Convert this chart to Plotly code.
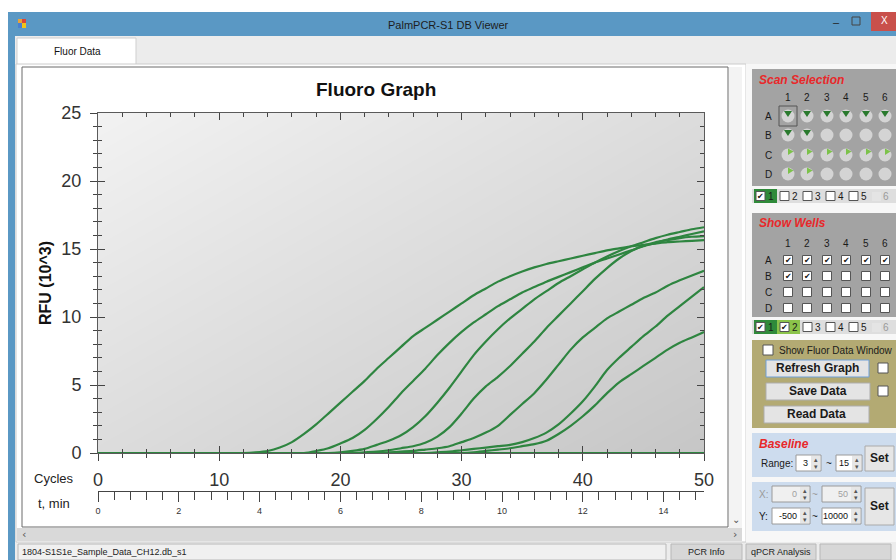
import plotly.graph_objects as go

# ---------------- data ----------------
cycles = list(range(51))
well_labels = ["B2", "A1", "A2", "A3", "A4", "A5", "A6", "B1"]

rfu_a1 = [0, 0, 0, 0, 0, 0, 0, 0, 0, 0, 0, 0, 0,
          0.05, 0.15, 0.4, 0.8, 1.4, 2.1, 2.9, 3.7, 4.5, 5.3, 6.2, 7.0, 7.8, 8.6, 9.2, 9.8,
          10.4, 11.0, 11.6, 12.1, 12.6, 13.0, 13.35, 13.65, 13.9, 14.1, 14.3, 14.5, 14.7,
          14.9, 15.05, 15.2, 15.3, 15.4, 15.5, 15.55, 15.6, 15.65]
rfu_a2 = [0, 0, 0, 0, 0, 0, 0, 0, 0, 0, 0, 0, 0, 0, 0, 0, 0, 0,
          0.15, 0.35, 0.7, 1.1, 1.7, 2.5, 3.4, 4.4, 5.3, 6.2, 7.2, 8.1, 8.9, 9.6, 10.2,
          10.8, 11.3, 11.8, 12.2, 12.6, 12.95, 13.3, 13.65, 14.0, 14.3, 14.6, 14.9, 15.2,
          15.45, 15.7, 15.9, 16.1, 16.3]
rfu_a3 = [0, 0, 0, 0, 0, 0, 0, 0, 0, 0, 0, 0, 0, 0, 0, 0, 0, 0, 0, 0,
          0.05, 0.15, 0.3, 0.6, 0.9, 1.3, 1.9, 2.7, 3.7, 4.8, 6.0, 7.2, 8.2, 9.1, 9.9,
          10.6, 11.3, 11.9, 12.5, 13.0, 13.5, 14.0, 14.45, 14.85, 15.2, 15.5, 15.8, 16.05,
          16.25, 16.45, 16.6]
rfu_a4 = [0, 0, 0, 0, 0, 0, 0, 0, 0, 0, 0, 0, 0, 0, 0, 0, 0, 0, 0, 0, 0, 0,
          0.05, 0.1, 0.2, 0.35, 0.5, 0.75, 1.2, 1.9, 2.9, 4.0, 4.9, 5.6, 6.4, 7.3, 8.2,
          9.2, 10.1, 11.0, 11.9, 12.8, 13.6, 14.3, 14.85, 15.25, 15.5, 15.65, 15.8, 15.9,
          15.95]
rfu_a5 = [0, 0, 0, 0, 0, 0, 0, 0, 0, 0, 0, 0, 0, 0, 0, 0, 0, 0, 0, 0, 0, 0, 0, 0,
          0.05, 0.1, 0.15, 0.25, 0.35, 0.5, 0.8, 1.1, 1.5, 2.0, 2.8, 3.6, 4.4, 5.4, 6.5,
          7.6, 8.5, 9.2, 9.9, 10.4, 10.9, 11.4, 11.8, 12.3, 12.7, 13.05, 13.4]
rfu_a6 = [0, 0, 0, 0, 0, 0, 0, 0, 0, 0, 0, 0, 0, 0, 0, 0, 0, 0, 0, 0, 0, 0, 0, 0,
          0, 0, 0, 0,
          0.05, 0.1, 0.2, 0.3, 0.4, 0.5, 0.6, 0.8, 1.1, 1.5, 2.1, 2.9, 3.8, 4.9, 6.1,
          7.0, 7.8, 8.6, 9.3, 10.1, 10.8, 11.5, 12.2]
rfu_b1 = [0, 0, 0, 0, 0, 0, 0, 0, 0, 0, 0, 0, 0, 0, 0, 0, 0, 0, 0, 0, 0, 0, 0, 0,
          0, 0, 0, 0, 0, 0, 0,
          0.05, 0.15, 0.25, 0.35, 0.5, 0.65, 0.9, 1.4, 2.0, 2.7, 3.5, 4.4, 5.2, 5.8,
          6.4, 7.0, 7.6, 8.1, 8.5, 8.9]
rfu_b2 = [0, 0, 0, 0, 0, 0, 0, 0, 0, 0, 0, 0, 0, 0, 0, 0, 0, 0, 0, 0, 0, 0, 0, 0,
          0, 0, 0, 0, 0, 0, 0, 0, 0, 0, 0, 0, 0, 0, 0, 0, 0, 0, 0, 0, 0, 0, 0, 0, 0,
          0, 0]
series = [rfu_b2, rfu_a1, rfu_a2, rfu_a3, rfu_a4, rfu_a5, rfu_a6, rfu_b1]

y_ticks = [0, 5, 10, 15, 20, 25]
x_ticks = [0, 10, 20, 30, 40, 50]
t_ticks = [0, 2, 4, 6, 8, 10, 12, 14]

# ---------------- helpers for window chrome ----------------
W, H = 896, 560
FONT = "Liberation Sans"
shapes, annots = [], []


def px(x):
    return x / W


def py(y):
    return 1 - y / H


def rect(x0, y0, x1, y1, fill, line=None, lw=1):
    ln = dict(color=line, width=lw) if line else dict(width=0)
    shapes.append(dict(type="rect", xref="paper", yref="paper", layer="below",
                       x0=px(x0), x1=px(x1), y0=py(y1), y1=py(y0),
                       fillcolor=fill, line=ln))


def circle(cx, cy, r, fill):
    shapes.append(dict(type="circle", xref="paper", yref="paper", layer="below",
                       x0=px(cx - r), x1=px(cx + r), y0=py(cy + r), y1=py(cy - r),
                       fillcolor=fill, line=dict(width=0)))


def poly(pts, fill):
    d = "M " + " L ".join(f"{px(a):.5f},{py(b):.5f}" for a, b in pts) + " Z"
    shapes.append(dict(type="path", xref="paper", yref="paper", layer="below",
                       path=d, fillcolor=fill, line=dict(width=0)))


def text(x, y, s, size=10, color="#111", anchor="left", family=FONT, angle=0):
    annots.append(dict(xref="paper", yref="paper", x=px(x), y=py(y), text=s,
                       showarrow=False, xanchor=anchor, yanchor="middle",
                       textangle=angle, font=dict(size=size, color=color, family=family)))


def checkbox(x, y, checked, size=9, bg="white", border="#555"):
    rect(x, y - size / 2, x + size, y + size / 2, bg, border, 1)
    if checked:
        text(x + size / 2, y, "✔", size=8, color="#111", anchor="center", family="DejaVu Sans")


# window background and frame
rect(0, 0, 896, 560, "#ffffff")
rect(8, 12, 896, 560, "#ececec")
rect(8, 12, 15, 560, "#5a98c4")
rect(8, 12, 896, 36, "#5a98c4")
rect(18, 19, 22, 23, "#e8a33a")
rect(22, 19, 26, 23, "#d9453b")
rect(18, 23, 22, 28, "#4a7fd0")
rect(22, 23, 26, 28, "#f0c419")
text(448, 25, "PalmPCR-S1 DB Viewer", size=11, color="#1d1d1d", anchor="center")
text(836, 22, "–", size=11, color="#222", anchor="center")
rect(852, 17, 860, 25, "rgba(0,0,0,0)", "#444", 1)
rect(871, 12, 896, 31, "#c9504b")
text(884, 21, "X", size=10, color="#ffffff", anchor="center")

# tab
rect(17, 38, 136, 65, "#ffffff", "#cfcfcf", 1)
text(77, 51, "Fluor Data", size=10, color="#111", anchor="center")

# tab page
rect(16, 64, 746, 542, "#ffffff", "#cccccc", 1)
rect(22, 67, 728, 527, "#ffffff", "#6a6a6a", 1)
rect(729, 67, 742, 528, "#f3f3f3")
text(736, 519, "⌄", size=10, color="#555", anchor="center", family="DejaVu Sans")
rect(17, 528, 742, 541, "#d9d9d9")
text(24, 534, "‹", size=11, color="#555", anchor="center", family="DejaVu Sans")
text(735, 534, "›", size=11, color="#555", anchor="center", family="DejaVu Sans")

# status bar
rect(18, 544, 666, 560, "#f0f0f0", "#b8b8b8", 1)
text(20, 552, "1804-S1S1e_Sample_Data_CH12.db_s1", size=9, color="#222")
rect(671, 544, 742, 560, "#d7d7d7", "#b8b8b8", 1)
text(706, 552, "PCR Info", size=9, color="#222", anchor="center")
rect(746, 544, 816, 560, "#d7d7d7", "#b8b8b8", 1)
text(781, 552, "qPCR Analysis", size=9, color="#222", anchor="center")
rect(820, 544, 891, 560, "#d7d7d7", "#b8b8b8", 1)

# right panel
rect(746, 64, 896, 542, "#f7f7f7")

cols_x = [788, 807, 827, 846, 866, 885]
rows_lbl = ["A", "B", "C", "D"]

# Scan Selection
rect(752, 69, 896, 186, "#a3a3a3")
text(757, 80, "<b><i>Scan Selection</i></b>", size=12, color="#e8282a")
for i, cx in enumerate(cols_x):
    text(cx, 97, str(i + 1), size=10, color="#1a1a1a", anchor="center")
scan_rows_y = [116, 135, 155, 174]
for r, ry in enumerate(scan_rows_y):
    text(768, ry, rows_lbl[r], size=10, color="#1a1a1a", anchor="center")
    for c, cx in enumerate(cols_x):
        circle(cx, ry, 6.5, "#d4d4d4")
        if r == 0 or (r == 1 and c < 2):
            poly([(cx - 4, ry - 5), (cx + 4, ry - 5), (cx, ry + 1)], "#2a7a2e")
        if r == 2 or (r == 3 and c < 2):
            poly([(cx, ry), (cx, ry - 6.5), (cx + 5.5, ry - 3.5)], "#7cc24a")
rect(779, 106, 797, 126, "rgba(0,0,0,0)", "#555", 1)

# channel row 1
rect(752, 189, 896, 203, "#dedede")
rect(754, 189, 777, 203, "#2f8a3a")
chan_x = [756, 780, 803, 826, 849, 872]
for i, cx in enumerate(chan_x):
    if i == 5:
        rect(cx, 192, cx + 9, 201, "#e4e4e4")
        text(cx + 14, 196, "6", size=10, color="#9a9a9a", anchor="center")
    else:
        checkbox(cx, 196, i == 0)
        text(cx + 15, 196, str(i + 1), size=10, color="#1a1a1a", anchor="center")

# Show Wells
rect(752, 213, 896, 317, "#a3a3a3")
text(757, 223, "<b><i>Show Wells</i></b>", size=12, color="#e8282a")
for i, cx in enumerate(cols_x):
    text(cx, 243, str(i + 1), size=10, color="#1a1a1a", anchor="center")
show_rows_y = [260, 276, 292, 308]
for r, ry in enumerate(show_rows_y):
    text(768, ry, rows_lbl[r], size=10, color="#1a1a1a", anchor="center")
    for c, cx in enumerate(cols_x):
        checkbox(cx - 4.5, ry, r == 0 or (r == 1 and c < 2))

# channel row 2
rect(752, 320, 896, 334, "#dedede")
rect(754, 320, 777, 334, "#2f8a3a")
rect(777, 320, 800, 334, "#8bc34a")
for i, cx in enumerate(chan_x):
    if i == 5:
        rect(cx, 323, cx + 9, 332, "#e4e4e4")
        text(cx + 14, 327, "6", size=10, color="#9a9a9a", anchor="center")
    else:
        checkbox(cx, 327, i < 2)
        text(cx + 15, 327, str(i + 1), size=10, color="#1a1a1a", anchor="center")

# olive control box
rect(752, 340, 896, 428, "#b3aa73")
checkbox(763, 350, False, size=10)
text(777, 350, "Show Fluor Data Window", size=10, color="#1a1a1a")
rect(766, 360, 869, 377, "#e4e4e4", "#6f9fd6", 1)
text(817, 368, "<b>Refresh Graph</b>", size=12, color="#1a1a1a", anchor="center")
checkbox(878, 368, False, size=10)
rect(766, 383, 870, 400, "#e4e4e4", "#adadad", 1)
text(818, 391, "<b>Save Data</b>", size=12, color="#1a1a1a", anchor="center")
checkbox(878, 391, False, size=10)
rect(764, 406, 869, 423, "#e4e4e4", "#adadad", 1)
text(816, 414, "<b>Read Data</b>", size=12, color="#1a1a1a", anchor="center")


def spinbox(x0, y0, x1, y1, val, enabled=True):
    rect(x0, y0, x1, y1, "#ffffff" if enabled else "#f0f0f0", "#9a9a9a", 1)
    rect(x1 - 10, y0 + 1, x1 - 1, y1 - 1, "#e6e6e6")
    text(x1 - 11, (y0 + y1) / 2, val, size=9, color="#111" if enabled else "#a0a0a0", anchor="right")
    text(x1 - 5.5, y0 + 4.5, "▴", size=7, color="#555", anchor="center", family="DejaVu Sans")
    text(x1 - 5.5, y1 - 4, "▾", size=7, color="#555", anchor="center", family="DejaVu Sans")


# Baseline box
rect(752, 433, 896, 477, "#cddcee")
text(757, 444, "<b><i>Baseline</i></b>", size=12, color="#e8282a")
text(759, 463, "Range:", size=10, color="#1a1a1a")
spinbox(796, 455, 821, 471, "3")
text(829, 463, "~", size=10, color="#1a1a1a", anchor="center")
spinbox(836, 455, 862, 471, "15")
rect(865, 446, 894, 471, "#e6e6e6", "#aaaaaa", 1)
text(879, 458, "<b>Set</b>", size=12, color="#1a1a1a", anchor="center")

# X / Y box
rect(752, 482, 896, 531, "#cddcee")
text(757, 494, "X:", size=10, color="#9a9a9a")
spinbox(772, 486, 810, 502, "0", enabled=False)
text(815, 494, "~", size=10, color="#9a9a9a", anchor="center")
spinbox(822, 486, 861, 502, "50", enabled=False)
text(757, 516, "Y:", size=10, color="#1a1a1a")
spinbox(772, 508, 810, 524, "-500")
text(815, 516, "~", size=10, color="#1a1a1a", anchor="center")
spinbox(822, 508, 861, 524, "10000")
rect(865, 488, 894, 525, "#e6e6e6", "#aaaaaa", 1)
text(879, 506, "<b>Set</b>", size=12, color="#1a1a1a", anchor="center")

# chart texts
text(376, 89, "<b>Fluoro Graph</b>", size=19, color="#111", anchor="center")
text(45, 283, "<b>RFU (10^3)</b>", size=16, color="#111", anchor="center", angle=-90)
text(32, 478, "Cycles", size=13, color="#222")
text(36, 503, "t, min", size=13, color="#222")

# ---------------- figure ----------------
fig = go.Figure()

# plot-area gradient background
fig.add_trace(go.Heatmap(x=[0, 50], y=[0, 25], z=[[0.5, 0.0], [1.0, 0.5]],
                         colorscale=[[0, "#c6c6c6"], [1, "#f2f2f2"]], zsmooth="best",
                         showscale=False, hoverinfo="skip"))

for name, vals in zip(well_labels, series):
    fig.add_trace(go.Scatter(x=cycles, y=vals, mode="lines", name=name,
                             line=dict(color="#2e8540", width=2.2, shape="spline", smoothing=0.7),
                             showlegend=False))

fig.add_trace(go.Scatter(x=[None], y=[None], xaxis="x3", yaxis="y3", showlegend=False, hoverinfo="skip"))
fig.add_trace(go.Scatter(x=[None], y=[None], xaxis="x2", yaxis="y", showlegend=False, hoverinfo="skip"))

xdom = [98 / W, 704 / W]
ydom = [1 - 453 / H, 1 - 113 / H]
tickc = "#444"

fig.update_layout(
    template="none",
    width=W, height=H, margin=dict(l=0, r=0, t=0, b=0, pad=0, autoexpand=False),
    paper_bgcolor="#ffffff", plot_bgcolor="#dcdcdc", showlegend=False,
    shapes=shapes, annotations=annots,
    xaxis=dict(domain=xdom, range=[0, 50], anchor="y", showgrid=False, zeroline=False,
               automargin=False,
               showline=True, linecolor="#5a5a5a", tickvals=x_ticks, ticks="outside",
               ticklen=7, tickcolor=tickc, ticklabelstandoff=3,
               minor=dict(dtick=2, ticks="outside", ticklen=4, tickcolor=tickc, showgrid=False),
               tickfont=dict(family=FONT, size=18, color="#333")),
    xaxis3=dict(overlaying="x", range=[0, 50], anchor="y", showgrid=False, zeroline=False,
                automargin=False,
                showline=True, mirror="ticks", linecolor="#5a5a5a", tickvals=x_ticks,
                ticks="inside", ticklen=7, tickcolor=tickc, showticklabels=False,
                minor=dict(dtick=2, ticks="inside", ticklen=4, tickcolor=tickc, showgrid=False)),
    xaxis2=dict(overlaying="x", anchor="free", position=1 - 491 / H, side="bottom",
                automargin=False,
                range=[0, 15], showgrid=False, zeroline=False, showline=True,
                linecolor="#444", tickvals=t_ticks, ticks="outside", ticklen=10,
                tickcolor=tickc, ticklabelstandoff=1,
                minor=dict(dtick=0.4, ticks="outside", ticklen=8, tickcolor=tickc, showgrid=False),
                tickfont=dict(family=FONT, size=9, color="#333")),
    yaxis=dict(domain=ydom, range=[0, 25], anchor="x", showgrid=False, zeroline=False,
               automargin=False,
               showline=True, linecolor="#5a5a5a", tickvals=y_ticks, ticks="outside",
               ticklen=7, tickcolor=tickc, ticklabelstandoff=5,
               minor=dict(dtick=1, ticks="outside", ticklen=4, tickcolor=tickc, showgrid=False),
               tickfont=dict(family=FONT, size=18, color="#333")),
    yaxis3=dict(overlaying="y", range=[0, 25], anchor="x", showgrid=False, zeroline=False,
                automargin=False,
                showline=True, mirror="ticks", linecolor="#5a5a5a", tickvals=y_ticks,
                ticks="inside", ticklen=7, tickcolor=tickc, showticklabels=False,
                minor=dict(dtick=1, ticks="inside", ticklen=4, tickcolor=tickc, showgrid=False)),
)

fig.write_html("out.html",
               post_script="document.body.style.margin='0';document.body.style.overflow='hidden';")
